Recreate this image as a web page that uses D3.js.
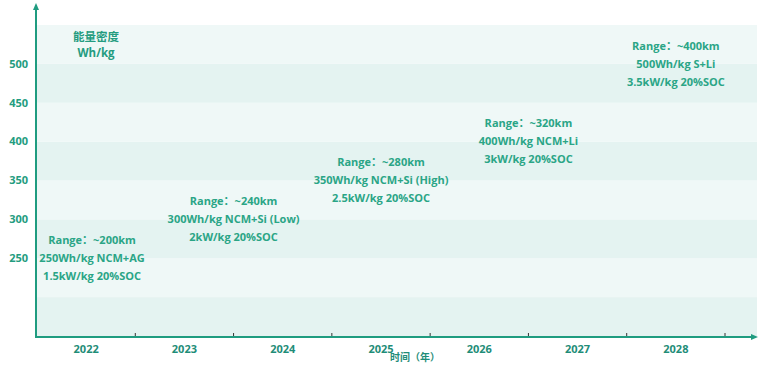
<!DOCTYPE html>
<html lang="zh">
<head>
  <meta charset="UTF-8">
  <title>能量密度路线图</title>
  <script src="https://cdn.jsdelivr.net/npm/d3@7"></script>
  <style>
    body { margin: 0; background: #fff; }
    text { font-family: "Open Sans", "Noto Sans CJK SC", sans-serif; font-weight: bold; }
  </style>
</head>
<body>
  <svg id="chart"></svg>
  <script>
    // data
    const years = ['2022', '2023', '2024', '2025', '2026', '2027', '2028'];
    const yTicks = [250, 300, 350, 400, 450, 500];
    const bandEdges = [150, 200, 250, 300, 350, 400, 450, 500, 550];
    // where each milestone sits: year position and energy density
    const pointYear = [2022.06, 2023.5, 2025, 2026.5, 2028];
    const density = [250, 300, 350, 400, 500];
    const rangeText = ['Range：~200km', 'Range：~240km', 'Range：~280km', 'Range：~320km', 'Range：~400km'];
    const chemText = ['250Wh/kg NCM+AG', '300Wh/kg NCM+Si (Low)', '350Wh/kg NCM+Si (High)', '400Wh/kg NCM+Li', '500Wh/kg S+Li'];
    const powerText = ['1.5kW/kg 20%SOC', '2kW/kg 20%SOC', '2.5kW/kg 20%SOC', '3kW/kg 20%SOC', '3.5kW/kg 20%SOC'];

    const width = 760, height = 370;
    const margin = { left: 37, right: 757, top: 25, bottom: 336 };
    const axisColor = '#1f9c80';
    const textColor = '#2aa586';

    const svg = d3.select('#chart').attr('width', width).attr('height', height);

    const y = d3.scaleLinear().domain([150, 550]).range([margin.bottom, margin.top]);
    const x = d3.scaleBand().domain(years).range([margin.left, 725]);
    const xYear = d3.scaleLinear()
      .domain([2022, 2028])
      .range([x('2022') + x.bandwidth() / 2, x('2028') + x.bandwidth() / 2]);

    // background bands
    const bands = d3.pairs(bandEdges);
    svg.append('g').selectAll('rect')
      .data(bands)
      .enter()
      .append('rect')
      .attr('x', margin.left)
      .attr('width', margin.right - margin.left)
      .attr('y', d => y(d[1]))
      .attr('height', d => y(d[0]) - y(d[1]))
      .attr('fill', (d, i) => i % 2 === 0 ? '#e4f3f1' : '#eff8f7');

    // y axis
    svg.append('line')
      .attr('x1', 36).attr('x2', 36)
      .attr('y1', margin.bottom + 1).attr('y2', 8)
      .attr('stroke', axisColor).attr('stroke-width', 2);
    svg.append('path')
      .attr('d', 'M36,3 L33,10 L39,10 Z')
      .attr('fill', axisColor);

    svg.append('g').selectAll('text')
      .data(yTicks)
      .enter()
      .append('text')
      .attr('x', 28)
      .attr('y', d => y(d))
      .attr('dy', '0.35em')
      .attr('text-anchor', 'end')
      .attr('font-size', 11)
      .attr('fill', '#249c80')
      .text(d => d);

    // x axis
    svg.append('line')
      .attr('x1', 35).attr('x2', 752)
      .attr('y1', margin.bottom + 1).attr('y2', margin.bottom + 1)
      .attr('stroke', axisColor).attr('stroke-width', 2);
    svg.append('path')
      .attr('d', `M758,${margin.bottom + 1} L751,${margin.bottom - 2} L751,${margin.bottom + 4} Z`)
      .attr('fill', axisColor);

    svg.append('g').selectAll('line')
      .data(years)
      .enter()
      .append('line')
      .attr('x1', d => x(d) + x.bandwidth())
      .attr('x2', d => x(d) + x.bandwidth())
      .attr('y1', margin.bottom - 3)
      .attr('y2', margin.bottom)
      .attr('stroke', '#333')
      .attr('stroke-width', 1);

    svg.append('g').selectAll('text')
      .data(years)
      .enter()
      .append('text')
      .attr('x', d => x(d) + x.bandwidth() / 2)
      .attr('y', 353)
      .attr('text-anchor', 'middle')
      .attr('font-size', 11)
      .attr('fill', '#1f8d78')
      .text(d => d);

    svg.append('text')
      .attr('x', 415).attr('y', 361)
      .attr('text-anchor', 'middle')
      .attr('font-size', 10)
      .attr('fill', '#1f8d78')
      .text('时间（年）');

    // y axis title
    svg.append('text')
      .attr('x', 96).attr('y', 41)
      .attr('text-anchor', 'middle')
      .attr('font-size', 11.5)
      .attr('fill', '#249c80')
      .text('能量密度');
    svg.append('text')
      .attr('x', 96).attr('y', 57)
      .attr('text-anchor', 'middle')
      .attr('font-size', 11.5)
      .attr('fill', '#249c80')
      .text('Wh/kg');

    // milestone notes
    const notes = svg.append('g').selectAll('g')
      .data(density)
      .enter()
      .append('g')
      .attr('transform', (d, i) => `translate(${xYear(pointYear[i])},${y(d)})`);

    notes.append('text')
      .attr('y', -18).attr('dy', '0.35em')
      .text((d, i) => rangeText[i]);
    notes.append('text')
      .attr('y', 0).attr('dy', '0.35em')
      .text((d, i) => chemText[i]);
    notes.append('text')
      .attr('y', 18).attr('dy', '0.35em')
      .text((d, i) => powerText[i]);

    notes.selectAll('text')
      .attr('text-anchor', 'middle')
      .attr('font-size', 11)
      .attr('fill', textColor);
  </script>
</body>
</html>
